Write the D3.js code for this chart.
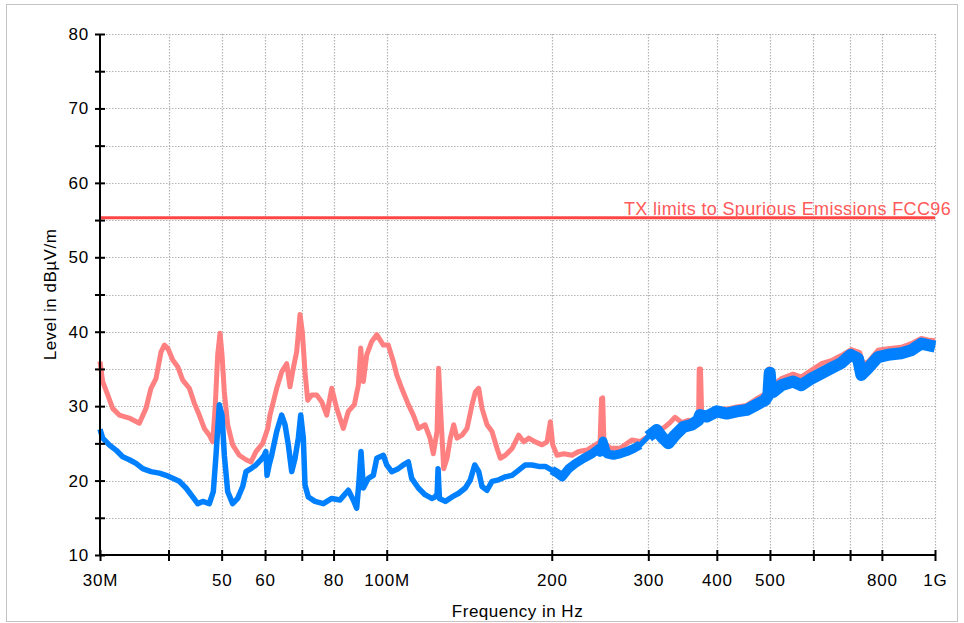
<!DOCTYPE html>
<html><head><meta charset="utf-8">
<script src="https://cdn.jsdelivr.net/npm/d3@7"></script>
<style>
body{margin:0;background:#fff;}
svg text{font-family:"Liberation Sans",Arial,sans-serif;}
</style></head><body>
<svg id="c" width="964" height="623"></svg>
<script>
// ---- data (frequency in MHz, level in dBµV/m) ----
const xTickValues = [30,40,50,60,70,80,100,200,300,400,500,600,700,800,1000];
const xTickLabels = {30:"30M",50:"50",60:"60",80:"80",100:"100M",200:"200",300:"300",400:"400",500:"500",800:"800",1000:"1G"};
const yTickValues = [10,15,20,25,30,35,40,45,50,55,60,65,70,75,80];
const yTickLabels = [10,20,30,40,50,60,70,80];
const limitLevel = 55.3;
const limitLabel = "TX limits to Spurious Emissions FCC96";

const redFreq = [30.0,30.34,30.99,31.64,32.53,33.93,35.39,36.39,37.16,37.95,38.77,39.31,39.87,40.72,41.58,42.46,43.66,44.58,45.52,46.49,47.48,48.16,48.69,49.18,49.66,50.08,50.57,51.29,52.37,53.85,55.39,56.56,57.76,59.41,60.68,61.25,63.01,64.34,65.71,66.62,67.55,68.52,69.49,70.16,70.96,71.77,72.98,74.53,76.11,77.74,79.39,81.07,83.34,85.13,87.29,88.77,89.67,90.65,91.96,93.91,95.92,98.6,100.69,102.82,104.3,106.51,109.52,111.84,114.21,117.46,119.97,121.64,123.54,124.36,125.25,127.05,128.85,130.65,132.5,134.35,137.19,140.1,143.11,145.09,147.18,149.23,152.39,155.62,158.95,161.16,164.58,169.26,174.08,177.8,181.57,186.67,192.0,196.07,198.85,200.83,204.51,210.34,217.79,224.05,231.98,240.2,245.0,246.5,247.7,249.0,255.51,266.5,279.91,289.86,302.15,312.85,321.76,328.61,335.58,345.15,354.82,367.55,370.5,371.5,373.5,375.5,377.9,388.7,399.77,417.0,434.9,453.6,472.98,489.7,496.0,497.5,500.5,503.9,506.6,524.6,551.0,570.3,594.9,620.4,646.9,674.7,703.5,728.9,739.1,754.8,787.1,820.8,867.9,905.1,943.9,970.9,1000];
const redLevel = [36.0,33.3,31.5,29.7,28.8,28.4,27.7,29.7,32.4,33.7,37.3,38.2,37.8,36.2,35.3,33.5,32.4,30.4,28.8,27.0,26.1,25.2,30.2,36.9,39.8,36.9,31.9,27.5,24.8,23.4,22.8,22.5,23.9,25.0,27.0,28.8,32.4,34.6,35.7,32.6,35.1,37.3,42.3,40.0,34.6,30.8,31.5,31.5,30.6,28.8,32.4,29.7,27.0,29.3,30.2,32.8,37.8,33.3,36.9,38.7,39.6,38.2,38.2,36.0,34.2,32.4,30.2,28.8,27.0,27.5,25.7,23.6,26.6,35.1,30.2,21.6,23.0,25.7,27.5,25.7,26.1,27.0,30.2,31.9,32.4,29.7,27.5,26.6,24.3,23.0,23.4,24.3,26.1,25.2,25.7,25.2,24.8,25.2,27.9,24.8,23.4,23.6,23.4,23.9,24.1,24.8,25.2,31.0,31.1,25.2,24.35,24.35,25.45,25.25,26.1,26.7,27.2,27.8,28.5,27.8,28.1,27.8,28.0,35.0,35.0,28.5,28.5,29.0,29.6,29.6,29.9,30.1,31.0,31.6,32.0,35.0,35.0,33.9,32.8,33.7,34.3,33.9,34.8,35.7,36.1,36.8,37.6,37.2,35.7,35.9,37.5,37.7,37.9,38.4,39.1,38.9,38.8];

const blueFreq = [30.0,30.34,31.18,32.08,33.0,33.93,34.9,35.89,37.16,38.49,39.59,40.72,41.86,43.05,44.28,45.22,46.18,47.48,48.28,48.83,49.51,50.08,50.57,51.29,52.37,53.49,54.62,55.39,56.56,57.76,58.98,59.8,60.2,60.5,61.0,61.69,63.01,64.34,65.25,66.16,67.11,68.05,69.0,69.7,70.46,70.96,71.96,74.01,76.63,79.39,82.19,85.13,86.91,88.16,89.02,89.77,90.65,92.57,94.53,95.92,98.6,100.0,102.12,104.99,107.22,109.52,111.07,114.21,117.46,120.81,122.5,123.6,124.07,124.8,127.91,131.56,135.31,139.11,142.09,144.73,147.18,149.23,152.39,155.62,160.09,164.58,169.26,174.08,179.0,184.1,189.36,194.68,200.04,204.51,208.84,214.79,220.87,228.8,236.9,243.59,245.0,248.0,251.99,259.12,266.5,274.09,281.84,289.86,300.0,310.78,317.29,326.28,335.58,347.4,359.9,370.01,372.71,383.33,399.77,417.0,434.9,453.6,472.98,489.7,496.6,499.5,501.5,503.9,506.6,524.6,551.0,570.3,594.9,620.4,646.9,674.7,701.7,723.7,733.8,754.8,787.1,820.8,867.9,905.1,943.9,970.9,1000];
const blueLevel = [26.9,25.7,24.8,24.1,23.2,22.8,22.3,21.6,21.2,21.0,20.7,20.3,19.9,19.0,17.8,16.9,17.2,16.9,18.5,23.4,30.2,28.8,23.4,18.5,16.9,17.6,19.2,21.2,21.6,22.1,22.8,23.4,23.9,20.7,22.0,23.4,26.6,28.8,27.5,24.8,21.2,23.0,25.7,28.8,25.7,19.4,17.8,17.2,16.9,17.6,17.4,18.7,17.4,16.3,19.9,23.9,19.0,20.3,20.7,23.0,23.4,22.1,21.2,21.6,22.1,22.5,20.3,19.0,18.1,17.6,17.8,18.2,21.6,17.6,17.2,17.8,18.3,19.0,20.1,22.1,21.2,19.2,18.7,19.9,20.1,20.5,20.7,21.4,22.1,22.1,21.9,21.9,21.4,21.0,20.5,21.6,22.3,23.0,23.6,24.3,23.8,25.3,23.6,23.4,23.6,23.9,24.3,24.8,25.9,26.8,25.9,25.0,26.1,27.2,27.5,28.1,28.8,28.6,29.3,29.0,29.3,29.5,30.2,30.8,31.5,34.5,33.0,31.9,31.9,32.8,33.3,32.8,33.7,34.4,35.1,35.8,36.9,36.4,34.2,35.1,36.6,36.9,37.1,37.5,38.4,38.2,38.0];

// ---- chart ----
const svg = d3.select("#c");
const x = d3.scaleLog().domain([30,1000]).range([100,935]);
const y = d3.scaleLinear().domain([10,80]).range([555,34]);

// frame
svg.append("rect").attr("x",6.5).attr("y",4.5).attr("width",951).attr("height",617)
  .attr("fill","none").attr("stroke","#c4c4c4").attr("stroke-width",1);

// grid
const grid = svg.append("g").attr("stroke","#b4b4b4").attr("stroke-width",1.2).attr("stroke-dasharray","1.5,1.5");
grid.selectAll("line.v").data(xTickValues.filter(d=>d>30)).join("line")
  .attr("x1",d=>Math.round(x(d))+0.5).attr("x2",d=>Math.round(x(d))+0.5)
  .attr("y1",y(80)).attr("y2",y(10));
grid.selectAll("line.h").data(yTickValues.filter(d=>d>10)).join("line")
  .attr("x1",x(30)).attr("x2",x(1000))
  .attr("y1",d=>Math.round(y(d))+0.5).attr("y2",d=>Math.round(y(d))+0.5);

// limit line
svg.append("line").attr("x1",x(30)).attr("x2",x(1000)).attr("y1",y(limitLevel)).attr("y2",y(limitLevel))
  .attr("stroke","#ff4646").attr("stroke-width",3);
svg.append("text").attr("x",951).attr("y",y(limitLevel)-3).attr("text-anchor","end")
  .attr("font-size",18).style("letter-spacing","0.35px").attr("fill","#ff5a5a").text(limitLabel);

// series
const redData = redFreq.map((f,i)=>[f,redLevel[i]]);
const blueData = blueFreq.map((f,i)=>[f,blueLevel[i]]);
const line = d3.line().x(d=>x(d[0])).y(d=>y(d[1]));
svg.append("path").attr("d",line(redData)).attr("fill","none")
  .attr("stroke","#ff8080").attr("stroke-width",5).attr("stroke-linejoin","round");
svg.append("path").attr("d",line(blueData)).attr("fill","none")
  .attr("stroke","#0080ff").attr("stroke-width",5.5).attr("stroke-linejoin","round");
svg.append("path").attr("d",line(blueData.filter(d=>d[0]>=200 && d[0]<300))).attr("fill","none")
  .attr("stroke","#0080ff").attr("stroke-width",9).attr("stroke-linejoin","round");
svg.append("path").attr("d",line(blueData.filter(d=>d[0]>=290))).attr("fill","none")
  .attr("stroke","#0080ff").attr("stroke-width",12).attr("stroke-linejoin","round");

// axes
const xAxis = svg.append("g").attr("transform",`translate(0,${y(10)})`)
  .call(d3.axisBottom(x).tickValues(xTickValues).tickFormat(d=>xTickLabels[d]||"").tickSize(6).tickPadding(0));
xAxis.select(".domain").remove();
xAxis.selectAll(".tick line").attr("stroke","#000").attr("stroke-width",2).attr("y1",-5).attr("y2",6);
xAxis.selectAll(".tick text").attr("font-size",17).attr("fill","#000").attr("y",31).attr("dy",0)
  .style("letter-spacing","0.8px").attr("font-family","Liberation Sans, Arial, sans-serif");

const yAxis = svg.append("g").attr("transform",`translate(${x(30)},0)`)
  .call(d3.axisLeft(y).tickValues(yTickValues).tickFormat(d=>yTickLabels.includes(d)?d:"").tickSize(5).tickPadding(5));
yAxis.select(".domain").remove();
yAxis.selectAll(".tick line").attr("stroke","#000").attr("stroke-width",2).attr("x1",5).attr("x2",-5);
yAxis.selectAll(".tick text").attr("font-size",17).attr("fill","#000").attr("x",-11)
  .style("letter-spacing","0.8px").attr("font-family","Liberation Sans, Arial, sans-serif");
svg.append("line").attr("x1",x(30)).attr("x2",x(1000)+1).attr("y1",y(10)).attr("y2",y(10)).attr("stroke","#000").attr("stroke-width",2);
svg.append("line").attr("x1",x(30)).attr("x2",x(30)).attr("y1",y(80)).attr("y2",y(10)+1).attr("stroke","#000").attr("stroke-width",2);

// axis titles
svg.append("text").attr("x",(x(30)+x(1000))/2).attr("y",617).attr("text-anchor","middle")
  .attr("font-size",17).style("letter-spacing","0.5px").text("Frequency in Hz");
svg.append("text").attr("transform",`translate(56,${(y(10)+y(80))/2}) rotate(-90)`).attr("text-anchor","middle")
  .attr("font-size",17).style("letter-spacing","0.5px").text("Level in dBµV/m");
</script>
</body></html>
